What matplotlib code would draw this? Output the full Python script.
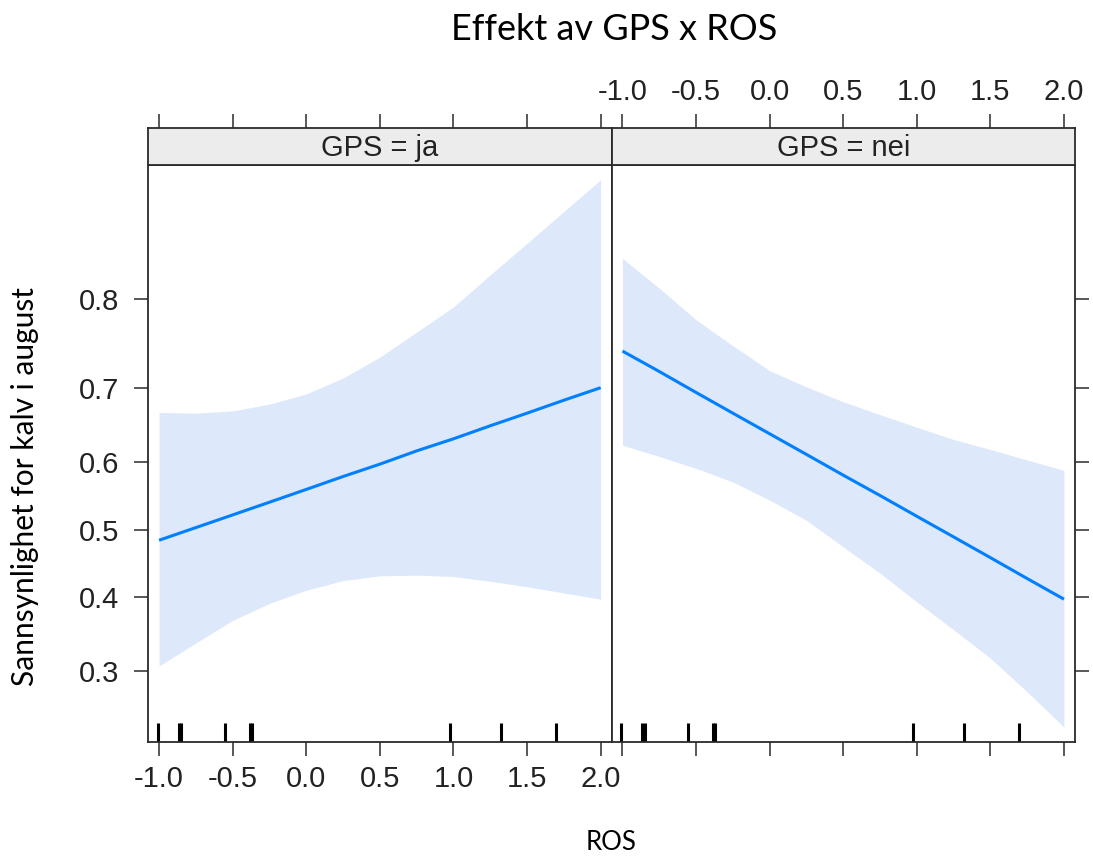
import numpy as np
import matplotlib
matplotlib.use("Agg")
import matplotlib.pyplot as plt
from matplotlib.ticker import NullLocator, FixedLocator

ros = [-1.0, -0.75, -0.5, -0.25, 0.0, 0.25, 0.5, 0.75, 1.0, 1.25, 1.5, 1.75, 2.0]

# GPS = ja
fit_ja = [0.484, 0.503, 0.522, 0.541, 0.560, 0.579, 0.597, 0.616, 0.633,
          0.651, 0.668, 0.685, 0.701]
lower_ja = [0.306, 0.336, 0.367, 0.391, 0.410, 0.424, 0.431, 0.432, 0.430,
            0.423, 0.415, 0.406, 0.397]
upper_ja = [0.669, 0.668, 0.671, 0.680, 0.693, 0.713, 0.738, 0.766, 0.792,
            0.822, 0.848, 0.871, 0.891]

# GPS = nei
fit_nei = [0.745, 0.721, 0.695, 0.668, 0.640, 0.611, 0.581, 0.551, 0.520,
           0.489, 0.458, 0.427, 0.397]
lower_nei = [0.624, 0.608, 0.591, 0.571, 0.544, 0.514, 0.474, 0.435, 0.393,
             0.354, 0.316, 0.274, 0.234]
upper_nei = [0.836, 0.810, 0.779, 0.751, 0.722, 0.702, 0.683, 0.666, 0.649,
             0.632, 0.618, 0.603, 0.588]

# observed ROS values (rug)
rug_ros = [-1.01, -0.865, -0.85, -0.552, -0.382, -0.368, 0.975, 1.32, 1.696]

panels = ["GPS = ja", "GPS = nei"]
yticks = [0.3, 0.4, 0.5, 0.6, 0.7, 0.8]
xticks = [-1.0, -0.5, 0.0, 0.5, 1.0, 1.5, 2.0]

line_col = "#0080ff"
band_col = "#dde8fb"
frame_col = "#2b2b2b"
tick_font = "Liberation Sans"
label_font = "Lato"

fig = plt.figure(figsize=(10.93, 8.56), dpi=100)

W, H = 1093.0, 856.0
pl, pm, pr = 148.3, 611.7, 1075.0
ptop, pbot, stop = 165.0, 741.7, 128.3

data = [(fit_ja, lower_ja, upper_ja), (fit_nei, lower_nei, upper_nei)]
edges = [(pl, pm), (pm, pr)]

for i, (name, (fit, lo, up), (x0, x1)) in enumerate(zip(panels, data, edges)):
    ax = fig.add_axes([x0 / W, 1 - pbot / H, (x1 - x0) / W, (pbot - ptop) / H])
    st = fig.add_axes([x0 / W, 1 - ptop / H, (x1 - x0) / W, (ptop - stop) / H])

    ax.fill_between(ros, lo, up, color=band_col, lw=0)
    ax.plot(ros, fit, color=line_col, lw=2.2, solid_capstyle="butt")
    ax.vlines(rug_ros, 0, 0.033, transform=ax.get_xaxis_transform(),
              color="black", lw=2.2)

    ax.set_yscale("logit")
    ax.set_ylim(0.2186, 0.8993)
    ax.set_xlim(-1.073, 2.075)
    ax.yaxis.set_major_locator(FixedLocator(yticks))
    ax.yaxis.set_minor_locator(NullLocator())
    ax.set_xticks(xticks)

    for s in ax.spines.values():
        s.set_color(frame_col)
        s.set_linewidth(1.3)
    ax.tick_params(direction="out", length=10, width=1.1, color=frame_col,
                   labelsize=21, pad=7)
    ax.tick_params(axis="y", pad=11)

    if i == 0:
        ax.set_xticklabels([f"{t:.1f}" for t in xticks], fontfamily=tick_font,
                           color="#222222")
        ax.set_yticklabels([f"{t:.1f}" for t in yticks], fontfamily=tick_font,
                           color="#222222")
        ax.tick_params(axis="y", left=True, right=False)
    else:
        ax.tick_params(axis="x", labelbottom=False)
        ax.tick_params(axis="y", left=False, labelleft=False, right=True)

    # strip with panel label and top ticks
    st.set_facecolor("#ececec")
    st.set_xlim(-1.073, 2.075)
    st.set_ylim(0, 1)
    st.set_yticks([])
    st.set_xticks(xticks)
    st.xaxis.tick_top()
    st.tick_params(axis="x", direction="out", length=10, width=1.1,
                   color=frame_col, labelsize=21, pad=6)
    if i == 1:
        st.set_xticklabels([f"{t:.1f}" for t in xticks], fontfamily=tick_font,
                           color="#222222")
    else:
        st.tick_params(axis="x", labeltop=False)
    for s in st.spines.values():
        s.set_color(frame_col)
        s.set_linewidth(1.3)
    st.text(0.5, 0.45, name, transform=st.transAxes, ha="center", va="center",
            fontsize=21, fontfamily=tick_font, color="#222222")

fig.text(614 / W, 1 - 30 / H, "Effekt av GPS x ROS", ha="center", va="center",
         fontsize=26, fontfamily=label_font)
fig.text(611 / W, 1 - 843 / H, "ROS", ha="center", va="center",
         fontsize=18.5, fontfamily=label_font)
fig.text(25 / W, 1 - 487 / H, "Sannsynlighet for kalv i august", rotation=90,
         ha="center", va="center", fontsize=21.5, fontfamily=label_font)

fig.savefig("out.png", dpi=100)
